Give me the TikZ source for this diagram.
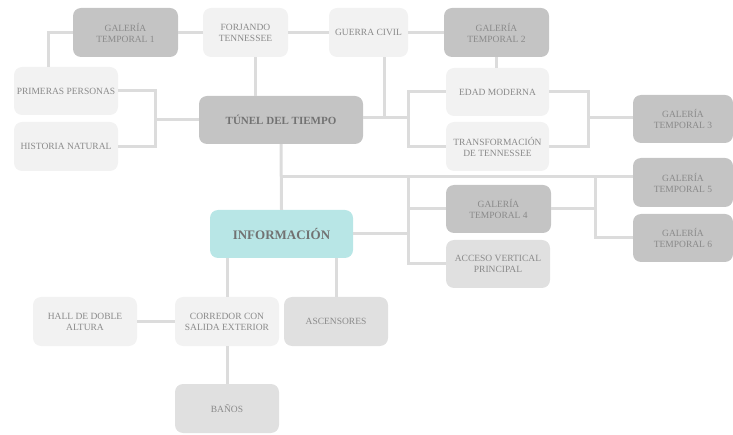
\documentclass[tikz,border=0pt]{standalone}
\usepackage{fontspec}
\setmainfont{Liberation Serif}
\usepackage{xcolor}
\usepackage{tikz}
\usetikzlibrary{positioning,calc}

\definecolor{roomlight}{HTML}{F2F2F2}
\definecolor{roommid}{HTML}{E0E0E0}
\definecolor{roomdark}{HTML}{C4C4C4}
\definecolor{hubteal}{HTML}{B8E6E6}
\definecolor{linkgray}{HTML}{DCDCDC}
\definecolor{textgray}{HTML}{8A8A8A}
\definecolor{textdark}{HTML}{727272}

\begin{document}
\begin{tikzpicture}[
    x=1pt, y=-1pt,
    font=\fontsize{9.5}{11}\selectfont,
    room/.style={rounded corners=8pt, align=center, text=textgray, inner sep=2pt,
      minimum width=104pt, minimum height=48pt},
    light/.style={room, fill=roomlight},
    mid/.style={room, fill=roommid},
    dark/.style={room, fill=roomdark},
    hub/.style={room, text=textdark, font=\fontsize{11}{13}\selectfont\bfseries},
    link/.style={draw=linkgray, line width=3pt}
  ]
  \useasboundingbox (0,0) rectangle (733,435);

  % upper row
  \node[dark, minimum width=105pt, minimum height=49pt] (gal1) at (125.5,32.5) {GALERÍA\\TEMPORAL 1};
  \node[light, minimum width=85pt, minimum height=49pt] (forj) at (245.5,32.5) {FORJANDO\\TENNESSEE};
  \node[light, minimum width=79pt, minimum height=49pt] (guerra) at (368.5,32.5) {GUERRA CIVIL};
  \node[dark, minimum width=105pt, minimum height=49pt] (gal2) at (496.5,32.5) {GALERÍA\\TEMPORAL 2};

  % left side
  \node[light] (prim) at (66,91) {PRIMERAS PERSONAS};
  \node[light, minimum height=49pt] (hist) at (66,146.5) {HISTORIA NATURAL};

  % main hubs
  \node[hub, fill=roomdark, minimum width=164pt] (tunel) at (281,120) {TÚNEL DEL TIEMPO};
  \node[hub, fill=hubteal, minimum width=143pt, font=\fontsize{13}{15}\selectfont\bfseries] (info) at (281.5,234) {INFORMACIÓN};

  % right side
  \node[light, minimum width=103pt] (edad) at (497.5,92) {EDAD MODERNA};
  \node[light, minimum width=103pt, minimum height=49pt] (transf) at (497.5,146.5) {TRANSFORMACIÓN\\DE TENNESSEE};
  \node[dark, minimum width=100pt] (gal3) at (683,119) {GALERÍA\\TEMPORAL 3};
  \node[dark, minimum width=105pt] (gal4) at (498.5,209) {GALERÍA\\TEMPORAL 4};
  \node[mid] (acceso) at (498,264) {ACCESO VERTICAL\\PRINCIPAL};
  \node[dark, minimum width=100pt, minimum height=49pt] (gal5) at (683,182.5) {GALERÍA\\TEMPORAL 5};
  \node[dark, minimum width=100pt] (gal6) at (683,238) {GALERÍA\\TEMPORAL 6};

  % lower part
  \node[light, minimum height=49pt] (hall) at (85,321.5) {HALL DE DOBLE\\ALTURA};
  \node[light, minimum height=49pt] (corr) at (227,321.5) {CORREDOR CON\\SALIDA EXTERIOR};
  \node[mid, minimum height=49pt] (asc) at (336,321.5) {ASCENSORES};
  \node[mid, minimum height=49pt] (banos) at (227,408.5) {BAÑOS};

  % junctions
  \coordinate (jleft) at (155,120);
  \coordinate (jright) at (408,118);
  \coordinate (jgal3) at (588,118);
  \coordinate (jbus) at (408,177);
  \coordinate (jgal5) at (595,177);

  % links
  \draw[link] (gal1.west) -| ([xshift=-18pt]prim.north);
  \draw[link] (gal1) -- (forj);
  \draw[link] (forj) -- (guerra);
  \draw[link] (guerra) -- (gal2);
  \draw[link] ([xshift=10pt]forj.south) -- ([xshift=10pt]forj.south |- tunel.north);
  \draw[link] (prim.east) -| (jleft) |- (hist.east);
  \draw[link] (jleft) -- (tunel.west);
  \draw[link] (tunel.east |- jright) -- (jright);
  \draw[link] ([xshift=16pt]guerra.south) -- ([xshift=16pt]guerra.south |- jright);
  \draw[link] (edad.west) -| (jright) |- (transf.west);
  \draw[link] (gal2.south) -- (gal2.south |- edad.north);
  \draw[link] (edad.east) -| (jgal3) |- (transf.east);
  \draw[link] (jgal3) -- (jgal3 -| gal3.west);
  \draw[link] (tunel.south) -- (info.north);
  \draw[link] (tunel.south |- jbus) -- (jbus -| gal5.west);
  \draw[link] (jbus) |- (acceso.west);
  \draw[link] (gal4.west) -- (gal4.west -| jbus);
  \draw[link] (info.east) -- (info.east -| jbus);
  \draw[link] (gal4.east) -- (gal4.east -| jgal5);
  \draw[link] (jgal5) |- (gal6.west);
  \draw[link] (info.south -| corr.north) -- (corr.north);
  \draw[link] (info.south -| asc.north) -- (asc.north);
  \draw[link] (hall) -- (corr);
  \draw[link] (corr) -- (banos);
\end{tikzpicture}
\end{document}
